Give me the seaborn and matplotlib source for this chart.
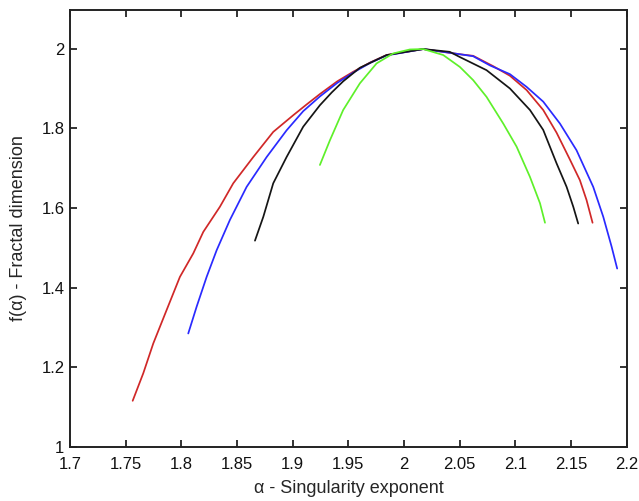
import numpy as np
import pandas as pd
import matplotlib
matplotlib.use("Agg")
import matplotlib.pyplot as plt
import seaborn as sns

red_x = [1.7563, 1.7658, 1.7748, 1.7868, 1.7987, 1.8107, 1.8197, 1.8346, 1.8466, 1.8646, 1.8825,
         1.9005, 1.9125, 1.9244, 1.9400, 1.9543, 1.9700, 1.9843, 2.0172, 2.0500, 2.0620, 2.0800,
         2.0950, 2.1100, 2.1249, 2.1369, 2.1488, 2.1578, 2.1638, 2.1692]
red_y = [1.116, 1.185, 1.260, 1.344, 1.427, 1.486, 1.540, 1.603, 1.662, 1.728, 1.791,
         1.833, 1.860, 1.886, 1.918, 1.942, 1.966, 1.984, 1.999, 1.986, 1.982, 1.956,
         1.932, 1.896, 1.846, 1.789, 1.722, 1.670, 1.620, 1.563]

blue_x = [1.8062, 1.8137, 1.8227, 1.8317, 1.8436, 1.8586, 1.8766, 1.8945, 1.9094, 1.9244, 1.9400,
          1.9543, 1.9700, 1.9843, 2.0172, 2.0500, 2.0620, 2.0770, 2.0950, 2.1100, 2.1249, 2.1399,
          2.1548, 2.1698, 2.1788, 2.1863, 2.1913]
blue_y = [1.285, 1.352, 1.427, 1.494, 1.570, 1.653, 1.728, 1.795, 1.843, 1.880, 1.914,
          1.940, 1.965, 1.983, 1.999, 1.986, 1.981, 1.958, 1.936, 1.904, 1.867, 1.812,
          1.745, 1.653, 1.578, 1.503, 1.448]

black_x = [1.8661, 1.8736, 1.8825, 1.8945, 1.9094, 1.9244, 1.9350, 1.9453, 1.9603, 1.9843, 2.0172,
           2.0410, 2.0500, 2.0740, 2.0950, 2.1130, 2.1249, 2.1369, 2.1459, 2.1519, 2.1563]
black_y = [1.518, 1.578, 1.662, 1.728, 1.804, 1.858, 1.890, 1.918, 1.952, 1.984, 1.999,
           1.992, 1.979, 1.946, 1.900, 1.846, 1.796, 1.712, 1.653, 1.603, 1.561]

green_x = [1.9244, 1.9334, 1.9453, 1.9603, 1.9753, 1.9902, 2.0052, 2.0172, 2.0351, 2.0501, 2.0620,
           2.0740, 2.0890, 2.1010, 2.1130, 2.1220, 2.1265]
green_y = [1.708, 1.770, 1.846, 1.913, 1.963, 1.988, 1.998, 1.999, 1.984, 1.954, 1.921,
           1.879, 1.812, 1.754, 1.678, 1.612, 1.563]

x_ticks = [1.7, 1.75, 1.8, 1.85, 1.9, 1.95, 2.0, 2.05, 2.1, 2.15, 2.2]
x_tick_labels = ["1.7", "1.75", "1.8", "1.85", "1.9", "1.95", "2", "2.05", "2.1", "2.15", "2.2"]
y_ticks = [1.0, 1.2, 1.4, 1.6, 1.8, 2.0]
y_tick_labels = ["1", "1.2", "1.4", "1.6", "1.8", "2"]

series = [("red", red_x, red_y), ("blue", blue_x, blue_y),
          ("black", black_x, black_y), ("green", green_x, green_y)]
frames = []
for name, xs, ys in series:
    frames.append(pd.DataFrame({"alpha": xs, "f": ys, "series": name}))
df = pd.concat(frames, ignore_index=True)

sns.set_style("ticks")
plt.rcParams['font.family'] = ['Liberation Sans', 'DejaVu Sans']

fig = plt.figure(figsize=(6.39, 5.01), dpi=100)
ax = fig.add_axes([0.1095, 0.1078, 0.8715, 0.8722])

palette = {"red": "#d02828", "blue": "#2a2aff", "black": "#151515", "green": "#5ef02a"}
sns.lineplot(data=df, x="alpha", y="f", hue="series", units="series", estimator=None,
             sort=False, palette=palette, linewidth=1.25, legend=False, ax=ax)

ax.set_xlim(1.7, 2.2)
ax.set_ylim(1.0, 2.097)
ax.set_xticks(x_ticks)
ax.set_xticklabels(x_tick_labels)
ax.set_yticks(y_ticks)
ax.set_yticklabels(y_tick_labels)
ax.tick_params(direction="in", length=5, width=1.2, top=True, right=True,
               labelsize=12, colors="#111111")
ax.tick_params(axis="x", pad=7)
ax.tick_params(axis="y", pad=4)
for s in ax.spines.values():
    s.set_visible(True)
    s.set_linewidth(1.4)
    s.set_color("#222222")
ax.set_xlabel("α - Singularity exponent", fontsize=13, labelpad=6)
ax.set_ylabel("f(α) - Fractal dimension", fontsize=13, labelpad=10)

fig.savefig("out.png", dpi=100)
